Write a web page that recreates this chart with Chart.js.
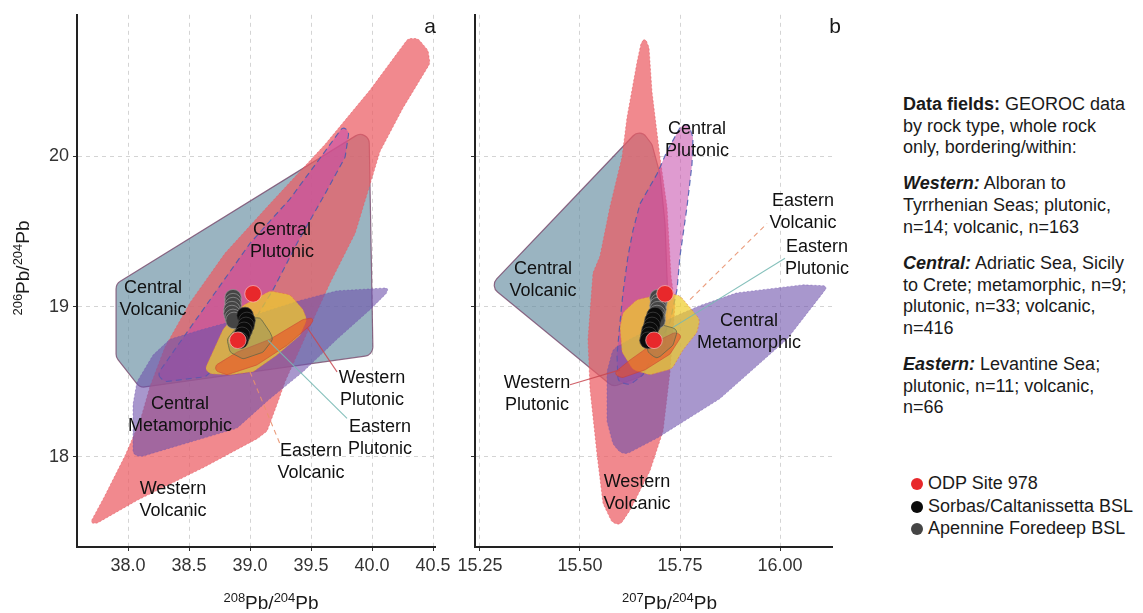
<!DOCTYPE html>
<html>
<head>
<meta charset="utf-8">
<script src="https://cdn.jsdelivr.net/npm/chart.js@4.4.1/dist/chart.umd.min.js"></script>
<style>
  body { margin: 0; background: #fff; font-family: "Liberation Sans", Arial, sans-serif; color: #1a1a1a; }
  #wrap { position: relative; width: 1143px; height: 613px; overflow: hidden; }
  canvas { position: absolute; top: 0; }
  #notes { position: absolute; left: 903px; top: 94px; font-size: 18px; line-height: 21.7px; white-space: nowrap; }
  #notes p { margin: 0 0 14.3px 0; }
  #legend { position: absolute; left: 911px; top: 472px; font-size: 18px; line-height: 22.5px; white-space: nowrap; }
  #legend .dot { display: inline-block; width: 12px; height: 12px; border-radius: 50%; margin-right: 5px; vertical-align: -1px; }
</style>
</head>
<body>
<div id="wrap">
  <canvas id="panelA" width="455" height="613" style="left:0"></canvas>
  <canvas id="panelB" width="420" height="613" style="left:440px"></canvas>
  <div id="notes">
    <p><b>Data fields:</b> GEOROC data<br>by rock type, whole rock<br>only, bordering/within:</p>
    <p><b><i>Western:</i></b> Alboran to<br>Tyrrhenian Seas; plutonic,<br>n=14; volcanic, n=163</p>
    <p><b><i>Central:</i></b> Adriatic Sea, Sicily<br>to Crete; metamorphic, n=9;<br>plutonic, n=33; volcanic,<br>n=416</p>
    <p><b><i>Eastern:</i></b> Levantine Sea;<br>plutonic, n=11; volcanic,<br>n=66</p>
  </div>
  <div id="legend"></div>
</div>
<script>
// ---- axis ticks
const ticks208 = [38.0, 38.5, 39.0, 39.5, 40.0, 40.5];
const ticks207 = [15.25, 15.50, 15.75, 16.00];
const ticks206 = [18, 19, 20];

// ---- samples (206Pb/204Pb, 208Pb/204Pb, 207Pb/204Pb)
const seriesNames = ["ODP Site 978", "Sorbas/Caltanissetta BSL", "Apennine Foredeep BSL"];
const seriesColors = ["#e8282b", "#0b0b0b", "#454545"];

const odp206 = [19.085, 18.776];
const odp208 = [39.025, 38.900];
const odp207 = [15.7125, 15.685];

const sorbas206 = [18.941, 18.908, 18.875, 18.842, 18.809, 18.776];
const sorbas208 = [38.959, 38.975, 38.967, 38.951, 38.934, 38.918];
const sorbas207 = [15.6875, 15.6825, 15.680, 15.675, 15.6725, 15.670];

const apennine206 = [19.059, 19.033, 19.007, 18.980, 18.954, 18.928, 18.908];
const apennine208 = [38.861, 38.861, 38.861, 38.852, 38.852, 38.861, 38.869];
const apennine207 = [15.695, 15.6975, 15.695, 15.695, 15.6925, 15.6925, 15.6925];

// ---- GEOROC field outlines, panel a (208 vs 206)
const cvA208 = [37.902, 39.975, 40.008, 38.098, 37.902];
const cvA206 = [19.151, 20.191, 18.678, 18.461, 18.664];
const wvA208 = [37.689, 37.811, 37.975, 38.098, 38.180, 38.303, 38.508, 38.795, 39.164, 39.615, 39.984, 40.295, 40.377, 40.459, 40.475, 40.254, 40.066, 39.861, 39.656, 39.451, 39.287, 39.221, 39.139, 39.066, 38.615, 38.074, 37.746];
const wvA206 = [17.559, 17.743, 18.007, 18.237, 18.467, 18.730, 19.026, 19.355, 19.684, 20.079, 20.441, 20.783, 20.783, 20.704, 20.618, 20.322, 20.033, 19.487, 19.158, 18.796, 18.500, 18.349, 18.171, 18.125, 17.928, 17.711, 17.559];
const cpA208 = [38.238, 38.426, 38.713, 39.000, 39.328, 39.615, 39.762, 39.811, 39.779, 39.615, 39.385, 39.189, 39.000, 38.795, 38.631, 38.303];
const cpA206 = [18.546, 18.763, 19.092, 19.421, 19.717, 20.033, 20.197, 20.164, 19.993, 19.750, 19.421, 19.112, 18.862, 18.645, 18.533, 18.500];
const cmA208 = [40.131, 39.713, 39.434, 39.025, 38.615, 38.344, 38.205, 38.074, 38.041, 38.041, 38.098, 38.893, 39.164, 39.434, 39.713, 39.984, 40.123];
const cmA206 = [19.125, 19.105, 19.046, 18.941, 18.849, 18.783, 18.678, 18.500, 18.349, 18.020, 18.000, 18.191, 18.388, 18.566, 18.783, 18.980, 19.092];
const evA208 = [38.631, 38.779, 38.943, 39.164, 39.328, 39.434, 39.467, 39.410, 39.221, 39.025, 38.836, 38.672];
const evA206 = [18.586, 18.849, 19.007, 19.105, 19.079, 18.980, 18.914, 18.809, 18.678, 18.566, 18.546, 18.553];
const wpA208 = [38.672, 38.893, 39.164, 39.434, 39.533, 39.492, 39.303, 39.057, 38.811];
const wpA206 = [18.586, 18.697, 18.783, 18.914, 18.928, 18.875, 18.743, 18.612, 18.546];
const epA208 = [38.811, 38.943, 39.082, 39.164, 39.189, 39.107, 38.943, 38.836];
const epA206 = [18.783, 18.914, 18.928, 18.829, 18.783, 18.697, 18.651, 18.697];

// ---- GEOROC field outlines, panel b (207 vs 206)
const cvB207 = [15.650, 15.680, 15.700, 15.7125, 15.720, 15.7125, 15.650, 15.5825, 15.275];
const cvB206 = [20.184, 20.079, 19.882, 19.553, 19.026, 18.730, 18.533, 18.467, 19.138];
const wvB207 = [15.6625, 15.6725, 15.680, 15.700, 15.7175, 15.7275, 15.7375, 15.725, 15.7075, 15.675, 15.625, 15.600, 15.580, 15.5575, 15.5425, 15.525, 15.520, 15.5325, 15.550, 15.575, 15.605, 15.6175, 15.6425, 15.6525];
const wvB206 = [20.789, 20.724, 20.428, 19.993, 19.664, 19.204, 19.007, 18.566, 18.171, 17.908, 17.645, 17.546, 17.566, 17.691, 18.020, 18.454, 18.783, 19.224, 19.336, 19.664, 19.993, 20.257, 20.625, 20.750];
const cpB207 = [15.770, 15.7825, 15.780, 15.7675, 15.750, 15.7425, 15.725, 15.6575, 15.625, 15.595, 15.5925, 15.600, 15.6075, 15.620, 15.6325, 15.650, 15.6925, 15.7175, 15.750];
const cpB206 = [20.224, 20.125, 19.947, 19.664, 19.336, 19.112, 18.895, 18.546, 18.480, 18.500, 18.678, 18.895, 19.092, 19.336, 19.507, 19.684, 19.882, 20.033, 20.191];
const cmB207 = [16.120, 16.0575, 15.8925, 15.800, 15.7425, 15.625, 15.5825, 15.5675, 15.5675, 15.5825, 15.6075, 15.6925, 15.850, 16.0175, 16.1075];
const cmB206 = [19.138, 19.145, 19.092, 19.007, 18.941, 18.783, 18.717, 18.566, 18.237, 18.086, 18.007, 18.125, 18.388, 18.783, 19.092];
const evB207 = [15.600, 15.6075, 15.6425, 15.7175, 15.750, 15.800, 15.7925, 15.7575, 15.730, 15.675, 15.6325, 15.605];
const evB206 = [18.862, 18.961, 19.046, 19.092, 19.072, 18.914, 18.829, 18.711, 18.586, 18.546, 18.579, 18.697];
const wpB207 = [15.5825, 15.625, 15.6875, 15.7375, 15.755, 15.725, 15.6625, 15.605];
const wpB206 = [18.553, 18.645, 18.763, 18.829, 18.809, 18.684, 18.579, 18.526];
const epB207 = [15.6625, 15.700, 15.745, 15.7325, 15.6925, 15.670];
const epB206 = [18.829, 18.882, 18.849, 18.743, 18.651, 18.697];

// ---- label leader lines [x0, x1], [y0, y1]
const leadA = {
  wp: [[39.467, 39.713], [18.862, 18.566]],
  ep: [[39.148, 39.795], [18.776, 18.257]],
  ev: [[39.000, 39.246], [18.566, 18.086]]
};
const leadB = {
  wp: [[15.475, 15.600], [18.480, 18.579]],
  ep: [[15.7325, 16.0125], [18.862, 19.322]],
  ev: [[15.775, 15.9675], [19.046, 19.553]]
};

const labelsA = [
  { text: ["Central", "Plutonic"], x: 39.262, y: 19.434 },
  { text: ["Central", "Volcanic"], x: 38.205, y: 19.053 },
  { text: ["Western", "Plutonic"], x: 40.000, y: 18.454 },
  { text: ["Eastern", "Plutonic"], x: 40.066, y: 18.125 },
  { text: ["Eastern", "Volcanic"], x: 39.500, y: 17.967 },
  { text: ["Central", "Metamorphic"], x: 38.426, y: 18.276 },
  { text: ["Western", "Volcanic"], x: 38.369, y: 17.711 }
];
const labelsB = [
  { text: ["Central", "Plutonic"], x: 15.7925, y: 20.109 },
  { text: ["Central", "Volcanic"], x: 15.4075, y: 19.174 },
  { text: ["Eastern", "Volcanic"], x: 16.0575, y: 19.632 },
  { text: ["Eastern", "Plutonic"], x: 16.0925, y: 19.326 },
  { text: ["Central", "Metamorphic"], x: 15.9225, y: 18.832 },
  { text: ["Western", "Plutonic"], x: 15.3925, y: 18.421 },
  { text: ["Western", "Volcanic"], x: 15.6425, y: 17.760 }
];

const FONT = '"Liberation Sans", Arial, sans-serif';
Chart.defaults.font.family = FONT;

const fieldStyle = {
  cv: { fill: "rgba(100,140,160,0.65)", line: "rgba(120,72,108,0.8)", width: 1.2, round: 9 },
  wv: { fill: "rgba(236,92,98,0.72)", line: "rgba(230,90,96,0.55)", dash: [2, 2], round: 6 },
  cp: { fill: "rgba(196,72,170,0.55)", line: "rgba(70,90,175,0.85)", dash: [6, 4], width: 1.2, round: 6 },
  cm: { fill: "rgba(110,82,172,0.6)", line: "rgba(110,82,172,0.45)", dash: [2, 2], round: 10 },
  ev: { fill: "rgba(238,205,45,0.72)", line: "rgba(225,110,70,0.55)", dash: [2, 2], round: 8 },
  wp: { fill: "rgba(232,80,40,0.62)", line: "rgba(200,60,50,0.5)", round: 5 },
  ep: { fill: "rgba(130,140,95,0.35)", line: "rgba(95,100,70,0.75)", round: 5 }
};
const leaderStyle = {
  wp: { color: "rgba(200,70,80,0.85)", dash: [] },
  ep: { color: "rgba(120,185,180,0.9)", dash: [] },
  ev: { color: "rgba(232,145,110,0.9)", dash: [5, 4] }
};

function zip(xs, ys) {
  return xs.map((x, i) => ({ x, y: ys[i] }));
}

function fieldSet(xs, ys, style) {
  return { data: zip(xs, ys), field: style, showLine: false, pointRadius: 0, pointHoverRadius: 0 };
}

function leaderSet(pair, style) {
  return {
    data: zip(pair[0], pair[1]), showLine: true, borderColor: style.color, borderWidth: 1.1,
    borderDash: style.dash, pointRadius: 0, fill: false
  };
}

function sampleSet(xs, ys, color, edge) {
  return {
    data: zip(xs, ys), backgroundColor: color, borderColor: edge, borderWidth: 0.8,
    pointRadius: 8.3, pointHoverRadius: 8.3
  };
}

function roundedPath(ctx, pts, r) {
  const n = pts.length;
  const mid = (p, q) => ({ x: (p.x + q.x) / 2, y: (p.y + q.y) / 2 });
  const s = mid(pts[n - 1], pts[0]);
  ctx.moveTo(s.x, s.y);
  for (let i = 0; i < n; i++) {
    const p = pts[i], prev = pts[(i - 1 + n) % n], next = pts[(i + 1) % n];
    const m = mid(p, next);
    const l1 = Math.hypot(prev.x - p.x, prev.y - p.y), l2 = Math.hypot(next.x - p.x, next.y - p.y);
    const cos = ((prev.x - p.x) * (next.x - p.x) + (prev.y - p.y) * (next.y - p.y)) / (l1 * l2 || 1);
    const ang = Math.acos(Math.max(-1, Math.min(1, cos)));
    const rr = Math.min(r, 0.5 * Math.min(l1, l2) * Math.tan(ang / 2));
    ctx.arcTo(p.x, p.y, m.x, m.y, Math.max(rr, 0));
  }
  ctx.closePath();
}

function drawIso(ctx, parts, cx, cy) {
  const base = "19px " + FONT, sup = "13px " + FONT;
  let w = 0;
  parts.forEach(([t, s]) => { ctx.font = s ? sup : base; w += ctx.measureText(t).width; });
  let x = cx - w / 2;
  ctx.textAlign = "left";
  ctx.textBaseline = "alphabetic";
  parts.forEach(([t, s]) => {
    ctx.font = s ? sup : base;
    ctx.fillText(t, x, s ? cy - 7 : cy);
    x += ctx.measureText(t).width;
  });
}

const fieldsPlugin = {
  id: "fields",
  beforeDatasetDraw(chart, args) {
    const ds = chart.data.datasets[args.index];
    if (!ds.field) return;
    const st = ds.field, a = chart.chartArea, ctx = chart.ctx;
    const pts = args.meta.data.map(p => ({ x: p.x, y: p.y }));
    ctx.save();
    ctx.beginPath();
    ctx.rect(a.left, a.top, a.right - a.left, a.bottom - a.top);
    ctx.clip();
    ctx.beginPath();
    roundedPath(ctx, pts, st.round);
    ctx.fillStyle = st.fill;
    ctx.fill();
    ctx.strokeStyle = st.line;
    ctx.lineWidth = st.width || 1;
    ctx.setLineDash(st.dash || []);
    ctx.stroke();
    ctx.restore();
  },
  afterDatasetsDraw(chart, args, opts) {
    const ctx = chart.ctx, xs = chart.scales.x, ys = chart.scales.y;
    ctx.save();
    ctx.font = "18px " + FONT;
    ctx.fillStyle = "#111";
    ctx.textAlign = "center";
    ctx.textBaseline = "middle";
    (opts.labels || []).forEach(lb => {
      const px = xs.getPixelForValue(lb.x), py = ys.getPixelForValue(lb.y);
      lb.text.forEach((t, k) => ctx.fillText(t, px, py + (k - (lb.text.length - 1) / 2) * 22));
    });
    ctx.restore();
  },
  afterDraw(chart, args, opts) {
    const ctx = chart.ctx, a = chart.chartArea;
    ctx.save();
    ctx.fillStyle = "#1a1a1a";
    drawIso(ctx, opts.xTitle, (a.left + a.right) / 2 + opts.titleShift, 609);
    if (opts.yTitle) {
      ctx.translate(29, 268);
      ctx.rotate(-Math.PI / 2);
      drawIso(ctx, opts.yTitle, 0, 0);
      ctx.setTransform(1, 0, 0, 1, 0, 0);
    }
    ctx.font = "21px " + FONT;
    ctx.textAlign = "center";
    ctx.textBaseline = "alphabetic";
    ctx.fillText(opts.letter, a.right + opts.letterDx, 33);
    ctx.restore();
  }
};

function makePanel(id, cfg) {
  const datasets = [
    fieldSet(cfg.cv[0], cfg.cv[1], fieldStyle.cv),
    fieldSet(cfg.wv[0], cfg.wv[1], fieldStyle.wv),
    fieldSet(cfg.cp[0], cfg.cp[1], fieldStyle.cp),
    fieldSet(cfg.cm[0], cfg.cm[1], fieldStyle.cm),
    fieldSet(cfg.ev[0], cfg.ev[1], fieldStyle.ev),
    fieldSet(cfg.wp[0], cfg.wp[1], fieldStyle.wp),
    fieldSet(cfg.ep[0], cfg.ep[1], fieldStyle.ep),
    leaderSet(cfg.lead.wp, leaderStyle.wp),
    leaderSet(cfg.lead.ep, leaderStyle.ep),
    leaderSet(cfg.lead.ev, leaderStyle.ev),
    sampleSet(cfg.apennine, apennine206, seriesColors[2], "rgba(150,150,150,0.9)"),
    sampleSet(cfg.sorbas, sorbas206, seriesColors[1], "rgba(70,70,70,0.9)"),
    sampleSet(cfg.odp, odp206, seriesColors[0], "rgba(255,200,200,0.8)")
  ].reverse(); // first dataset is drawn on top

  const tickFont = { size: 18, family: FONT };
  new Chart(document.getElementById(id), {
    type: "scatter",
    data: { datasets },
    options: {
      responsive: false,
      animation: false,
      devicePixelRatio: 1,
      events: [],
      layout: { padding: { top: 9, right: cfg.padRight, left: 0, bottom: 0 } },
      plugins: {
        legend: { display: false },
        tooltip: { enabled: false },
        fields: { labels: cfg.labels, xTitle: cfg.xTitle, yTitle: cfg.yTitle, letter: cfg.letter, letterDx: cfg.letterDx, titleShift: cfg.titleShift }
      },
      scales: {
        x: {
          type: "linear", min: cfg.xMin, max: cfg.xMax,
          afterBuildTicks: s => { s.ticks = cfg.xTicks.map(v => ({ value: v })); },
          afterFit: s => { s.height = 66; },
          ticks: { autoSkip: false, maxRotation: 0, font: tickFont, color: "#333", padding: 4, callback: v => Number(v).toFixed(cfg.xDigits) },
          grid: { color: "#d4d4d4", lineWidth: 1, tickColor: "#333", tickLength: 4 },
          border: { display: true, color: "#222", width: 2, dash: [4, 4] }
        },
        y: {
          type: "linear", min: 17.401, max: 20.941,
          afterBuildTicks: s => { s.ticks = ticks206.map(v => ({ value: v })); },
          afterFit: s => { s.width = cfg.yWidth; },
          ticks: { autoSkip: false, font: tickFont, color: "#333", padding: 4, callback: v => cfg.yLabels ? String(v) : "" },
          grid: { color: "#d4d4d4", lineWidth: 1, tickColor: "#333", tickLength: 4 },
          border: { display: true, color: "#222", width: 2, dash: [4, 4] }
        }
      }
    },
    plugins: [fieldsPlugin]
  });
}

makePanel("panelA", {
  cv: [cvA208, cvA206], wv: [wvA208, wvA206], cp: [cpA208, cpA206], cm: [cmA208, cmA206],
  ev: [evA208, evA206], wp: [wpA208, wpA206], ep: [epA208, epA206],
  lead: leadA, labels: labelsA,
  apennine: apennine208, sorbas: sorbas208, odp: odp208,
  xMin: 37.582, xMax: 40.516, xTicks: ticks208, xDigits: 1,
  yWidth: 77, yLabels: true, padRight: 20,
  xTitle: [["208", true], ["Pb/", false], ["204", true], ["Pb", false]],
  yTitle: [["206", true], ["Pb/", false], ["204", true], ["Pb", false]],
  letter: "a", letterDx: -5, titleShift: 15
});

makePanel("panelB", {
  cv: [cvB207, cvB206], wv: [wvB207, wvB206], cp: [cpB207, cpB206], cm: [cmB207, cmB206],
  ev: [evB207, evB206], wp: [wpB207, wpB206], ep: [epB207, epB206],
  lead: leadB, labels: labelsB,
  apennine: apennine207, sorbas: sorbas207, odp: odp207,
  xMin: 15.2375, xMax: 16.13, xTicks: ticks207, xDigits: 2,
  yWidth: 35, yLabels: false, padRight: 28,
  xTitle: [["207", true], ["Pb/", false], ["204", true], ["Pb", false]],
  yTitle: null,
  letter: "b", letterDx: 3, titleShift: 16
});

// legend
document.getElementById("legend").innerHTML = seriesNames
  .map((name, i) => `<div><span class="dot" style="background:${seriesColors[i]}"></span>${name}</div>`)
  .join("");
</script>
</body>
</html>
